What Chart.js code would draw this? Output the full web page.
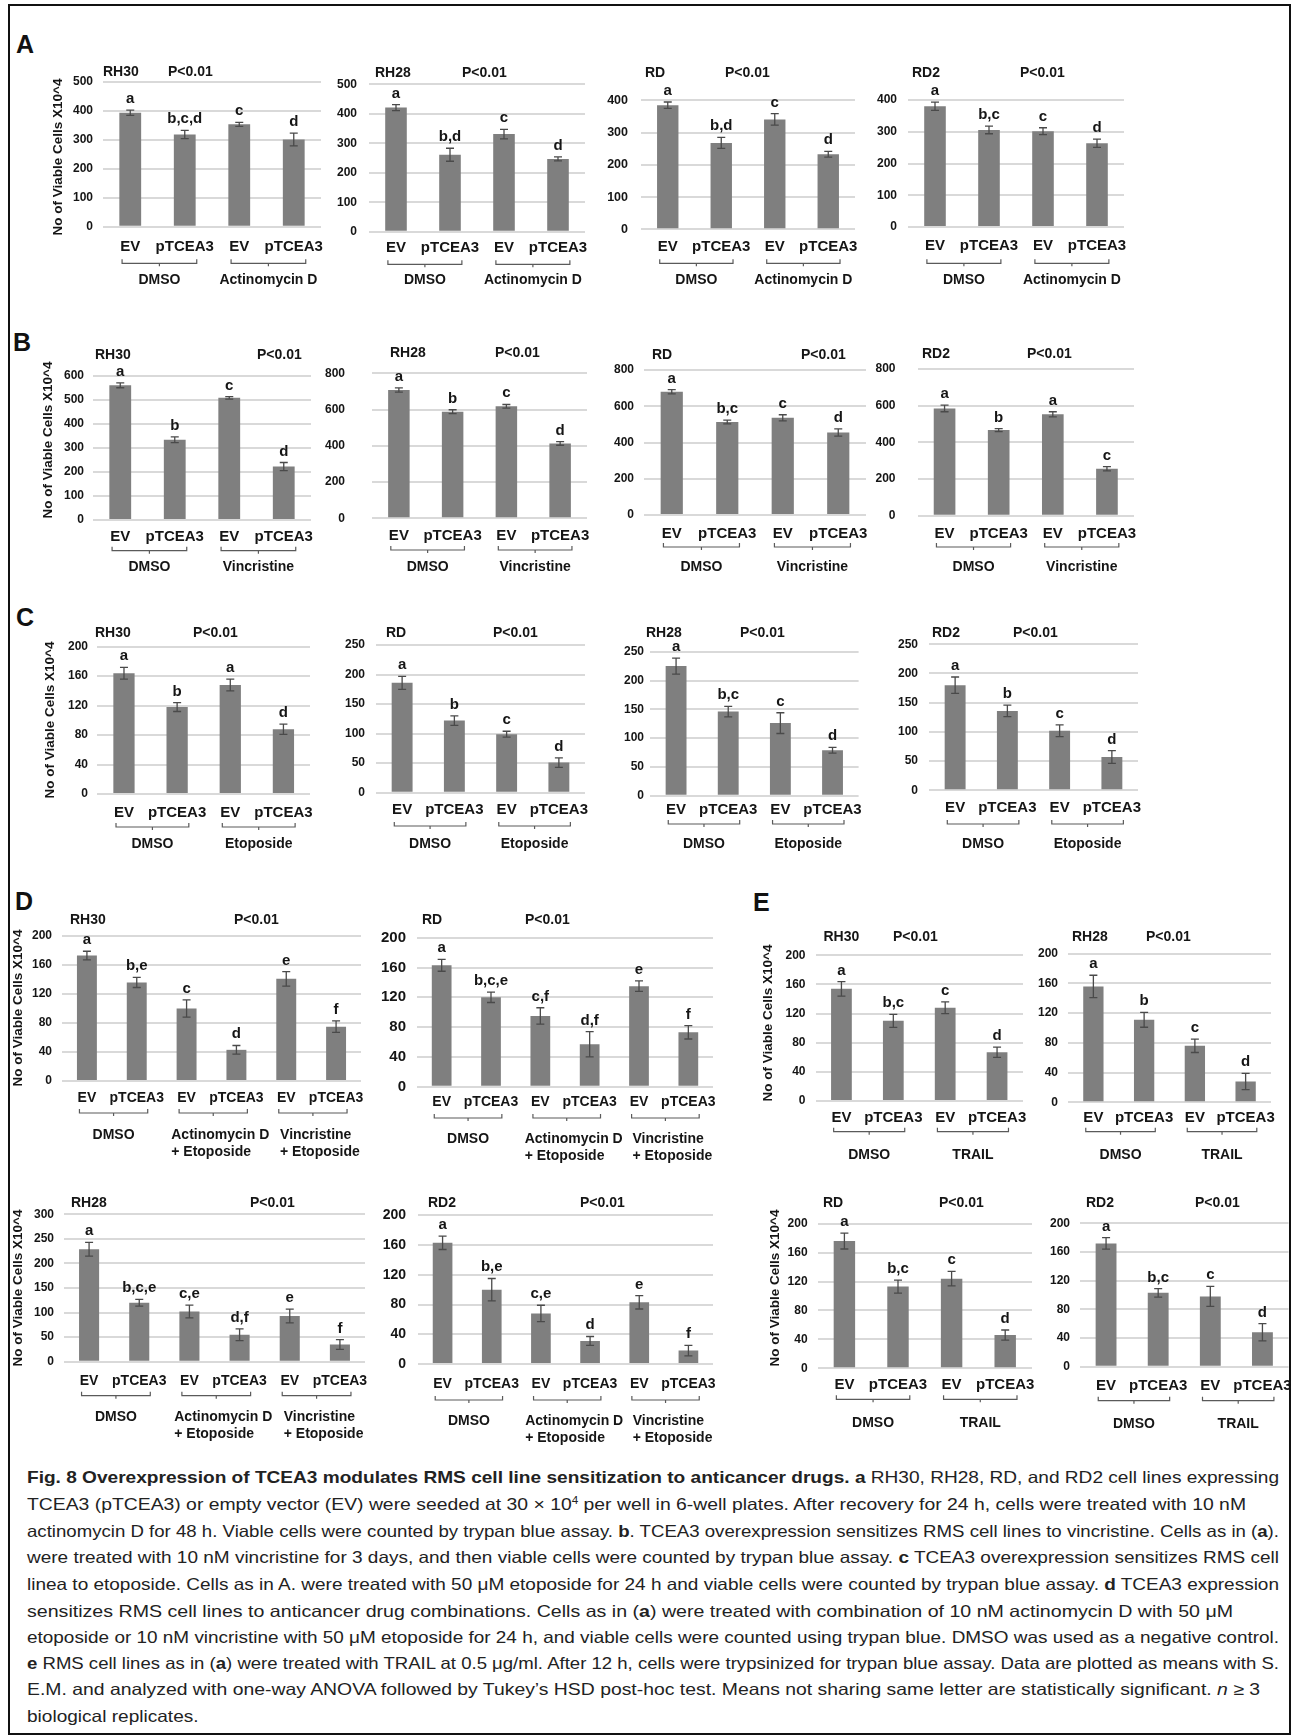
<!DOCTYPE html>
<html>
<head>
<meta charset="utf-8">
<script src="https://cdn.jsdelivr.net/npm/chart.js@4.4.1/dist/chart.umd.min.js"></script>
<style>
  html, body { margin: 0; padding: 0; background: #fff; }
  #fig { position: relative; width: 1298px; height: 1735px; overflow: hidden; background: #fff; }
  #frame { position: absolute; left: 8px; top: 4px; width: 1283px; height: 1731px; border: 2px solid #111; box-sizing: border-box; }
  .plabel { position: absolute; font: bold 25px 'Liberation Sans', Arial, sans-serif; color: #111; line-height: 25px; }
  canvas { position: absolute; }
  .cap { position: absolute; left: 27px; white-space: nowrap; font: 16.5px 'Liberation Sans', Arial, sans-serif; color: #222; line-height: 20px; transform-origin: 0 50%; }
  .cap b { font-weight: bold; }
  .cap sup { font-size: 10px; vertical-align: 6px; line-height: 0; }
</style>
</head>
<body>
<div id="fig">
  <div id="frame"></div>
  <div class="plabel" style="left:16px;top:32px">A</div>
  <div class="plabel" style="left:13px;top:330px">B</div>
  <div class="plabel" style="left:16px;top:605px">C</div>
  <div class="plabel" style="left:15px;top:889px">D</div>
  <div class="plabel" style="left:753px;top:890px">E</div>
</div>
<script>
// ---- category labels ----
const xLabels4 = ['EV', 'pTCEA3', 'EV', 'pTCEA3'];
const xLabels6 = ['EV', 'pTCEA3', 'EV', 'pTCEA3', 'EV', 'pTCEA3'];
const groupsActD = ['DMSO', 'Actinomycin D'];
const groupsVcr = ['DMSO', 'Vincristine'];
const groupsEto = ['DMSO', 'Etoposide'];
const groupsCombo = ['DMSO', ['Actinomycin D', '+ Etoposide'], ['Vincristine', '+ Etoposide']];
const groupsTrail = ['DMSO', 'TRAIL'];
const pLabel = 'P<0.01';
const yTitle = 'No of Viable Cells X10^4';

// ---- y axis ranges [min, max, step] ----
const axis500by100 = [0, 500, 100];
const axis500by50 = [0, 500, 50];
const axis450by50 = [0, 450, 50];
const axis600by100 = [0, 600, 100];
const axis800by200 = [0, 800, 200];
const axis200by20 = [0, 200, 20];
const axis250by50 = [0, 250, 50];
const axis200by40 = [0, 200, 40];
const axis300by50 = [0, 300, 50];

// ---- A: actinomycin D ----
const actRH30 = [393, 318, 353, 301];
const actRH30Err = [9, 14, 7, 22];
const actRH30Sig = ['a', 'b,c,d', 'c', 'd'];
const actRH28 = [421, 261, 331, 247];
const actRH28Err = [10, 22, 16, 7];
const actRH28Sig = ['a', 'b,d', 'c', 'd'];
const actRD = [385, 268, 341, 233];
const actRDErr = [10, 17, 18, 9];
const actRDSig = ['a', 'b,d', 'c', 'd'];
const actRD2 = [381, 306, 302, 264];
const actRD2Err = [13, 12, 11, 13];
const actRD2Sig = ['a', 'b,c', 'c', 'd'];

// ---- B: vincristine ----
const vcrRH30 = [560, 334, 508, 222];
const vcrRH30Err = [10, 12, 5, 17];
const vcrRH30Sig = ['a', 'b', 'c', 'd'];
const vcrRH28 = [708, 588, 618, 413];
const vcrRH28Err = [12, 11, 10, 10];
const vcrRH28Sig = ['a', 'b', 'c', 'd'];
const vcrRD = [680, 513, 536, 455];
const vcrRDErr = [12, 10, 17, 20];
const vcrRDSig = ['a', 'b,c', 'c', 'd'];
const vcrRD2 = [585, 467, 553, 256];
const vcrRD2Err = [18, 8, 14, 12];
const vcrRD2Sig = ['a', 'b', 'a', 'c'];

// ---- C: etoposide ----
const etoRH30 = [164, 118, 148, 88];
const etoRH30Err = [8, 6, 8, 7];
const etoRH30Sig = ['a', 'b', 'a', 'd'];
const etoRD = [186, 122, 99, 51];
const etoRDErr = [11, 8, 5, 8];
const etoRDSig = ['a', 'b', 'c', 'd'];
const etoRH28 = [225, 146, 126, 79];
const etoRH28Err = [14, 9, 18, 5];
const etoRH28Sig = ['a', 'b,c', 'c', 'd'];
const etoRD2 = [180, 136, 102, 57];
const etoRD2Err = [14, 10, 10, 11];
const etoRD2Sig = ['a', 'b', 'c', 'd'];

// ---- D: drug combinations ----
const comboRH30 = [173, 136, 100, 43, 141, 75];
const comboRH30Err = [6, 7, 12, 6, 10, 8];
const comboRH30Sig = ['a', 'b,e', 'c', 'd', 'e', 'f'];
const comboRD = [163, 120, 95, 57, 135, 73];
const comboRDErr = [8, 7, 11, 17, 7, 9];
const comboRDSig = ['a', 'b,c,e', 'c,f', 'd,f', 'e', 'f'];
const comboRH28 = [229, 120, 102, 55, 93, 35];
const comboRH28Err = [14, 7, 13, 12, 14, 10];
const comboRH28Sig = ['a', 'b,c,e', 'c,e', 'd,f', 'e', 'f'];
const comboRD2 = [163, 100, 68, 31, 83, 18];
const comboRD2Err = [9, 15, 11, 6, 9, 7];
const comboRD2Sig = ['a', 'b,e', 'c,e', 'd', 'e', 'f'];

// ---- E: TRAIL ----
const trailRH30 = [154, 110, 128, 67];
const trailRH30Err = [10, 9, 8, 7];
const trailRH30Sig = ['a', 'b,c', 'c', 'd'];
const trailRH28 = [156, 111, 76, 28];
const trailRH28Err = [15, 10, 9, 11];
const trailRH28Sig = ['a', 'b', 'c', 'd'];
const trailRD = [176, 113, 124, 46];
const trailRDErr = [11, 9, 10, 7];
const trailRDSig = ['a', 'b,c', 'c', 'd'];
const trailRD2 = [172, 103, 98, 48];
const trailRD2Err = [8, 6, 14, 12];
const trailRD2Sig = ['a', 'b,c', 'c', 'd'];

// ---- panel definitions: data references ----
const panels = [
  { line: 'RH30', labels: xLabels4, groups: groupsActD, axis: axis500by100, mean: actRH30, err: actRH30Err, sig: actRH30Sig },
  { line: 'RH28', labels: xLabels4, groups: groupsActD, axis: axis500by50, mean: actRH28, err: actRH28Err, sig: actRH28Sig },
  { line: 'RD', labels: xLabels4, groups: groupsActD, axis: axis450by50, mean: actRD, err: actRDErr, sig: actRDSig },
  { line: 'RD2', labels: xLabels4, groups: groupsActD, axis: axis450by50, mean: actRD2, err: actRD2Err, sig: actRD2Sig },
  { line: 'RH30', labels: xLabels4, groups: groupsVcr, axis: axis600by100, mean: vcrRH30, err: vcrRH30Err, sig: vcrRH30Sig },
  { line: 'RH28', labels: xLabels4, groups: groupsVcr, axis: axis800by200, mean: vcrRH28, err: vcrRH28Err, sig: vcrRH28Sig },
  { line: 'RD', labels: xLabels4, groups: groupsVcr, axis: axis800by200, mean: vcrRD, err: vcrRDErr, sig: vcrRDSig },
  { line: 'RD2', labels: xLabels4, groups: groupsVcr, axis: axis800by200, mean: vcrRD2, err: vcrRD2Err, sig: vcrRD2Sig },
  { line: 'RH30', labels: xLabels4, groups: groupsEto, axis: axis200by20, mean: etoRH30, err: etoRH30Err, sig: etoRH30Sig },
  { line: 'RD', labels: xLabels4, groups: groupsEto, axis: axis250by50, mean: etoRD, err: etoRDErr, sig: etoRDSig },
  { line: 'RH28', labels: xLabels4, groups: groupsEto, axis: axis250by50, mean: etoRH28, err: etoRH28Err, sig: etoRH28Sig },
  { line: 'RD2', labels: xLabels4, groups: groupsEto, axis: axis250by50, mean: etoRD2, err: etoRD2Err, sig: etoRD2Sig },
  { line: 'RH30', labels: xLabels6, groups: groupsCombo, axis: axis200by40, mean: comboRH30, err: comboRH30Err, sig: comboRH30Sig },
  { line: 'RD', labels: xLabels6, groups: groupsCombo, axis: axis200by40, mean: comboRD, err: comboRDErr, sig: comboRDSig },
  { line: 'RH28', labels: xLabels6, groups: groupsCombo, axis: axis300by50, mean: comboRH28, err: comboRH28Err, sig: comboRH28Sig },
  { line: 'RD2', labels: xLabels6, groups: groupsCombo, axis: axis200by40, mean: comboRD2, err: comboRD2Err, sig: comboRD2Sig },
  { line: 'RH30', labels: xLabels4, groups: groupsTrail, axis: axis200by40, mean: trailRH30, err: trailRH30Err, sig: trailRH30Sig },
  { line: 'RH28', labels: xLabels4, groups: groupsTrail, axis: axis200by40, mean: trailRH28, err: trailRH28Err, sig: trailRH28Sig },
  { line: 'RD', labels: xLabels4, groups: groupsTrail, axis: axis200by20, mean: trailRD, err: trailRDErr, sig: trailRDSig },
  { line: 'RD2', labels: xLabels4, groups: groupsTrail, axis: axis200by20, mean: trailRD2, err: trailRD2Err, sig: trailRD2Sig }
];

// ---- page geometry of each plot (same order as panels) ----
// L/R/T/B: plot box; nx/px/ty: title positions; xl: tick label row; br: brace row; gl: group label row
const layout = [
  { L: 103, R: 321, T: 81.7, B: 226.7, nx: 103, px: 168, ty: 72, xl: 247.3, br: 263.3, gl: 280, yt: [58, 157], gap: 10, tf: 12 },
  { L: 369, R: 585, T: 84.3, B: 231.7, nx: 375, px: 462, ty: 73, xl: 248.3, br: 264.3, gl: 280, gap: 12, tf: 12 },
  { L: 641, R: 855, T: 84.3, B: 229.3, nx: 645, px: 725, ty: 72.7, xl: 247, br: 263.3, gl: 280, gap: 13, tf: 12.5 },
  { L: 908, R: 1124, T: 84.3, B: 227, nx: 912, px: 1020, ty: 72.7, xl: 246, br: 263.3, gl: 280, gap: 11, tf: 12 },
  { L: 93, R: 311, T: 375.7, B: 520, nx: 95, px: 257, ty: 355, xl: 536.7, br: 550.7, gl: 566.7, yt: [48, 440], gap: 9, tf: 12 },
  { L: 372, R: 587, T: 373.3, B: 518.3, nx: 390, px: 495, ty: 353, xl: 536, br: 550, gl: 567, gap: 27, tf: 12 },
  { L: 644, R: 866, T: 370, B: 515, nx: 652, px: 801, ty: 355, xl: 534, br: 547, gl: 567, gap: 10, tf: 12 },
  { L: 917.5, R: 1134, T: 369, B: 515.7, nx: 922, px: 1027, ty: 354, xl: 534, br: 547, gl: 567, gap: 22, tf: 12 },
  { L: 97.4, R: 310, T: 646.7, B: 794, nx: 95, px: 193, ty: 633, xl: 812.7, br: 827, gl: 844, yt: [50, 720], gap: 9.4, tf: 12 },
  { L: 376, R: 585, T: 645, B: 792.7, nx: 386, px: 493, ty: 633, xl: 810, br: 826, gl: 844, gap: 11, tf: 12 },
  { L: 650, R: 858.6, T: 651.7, B: 795.7, nx: 646, px: 740, ty: 633, xl: 810, br: 824, gl: 844, gap: 6, tf: 12 },
  { L: 929, R: 1138, T: 644.3, B: 790.3, nx: 932, px: 1013, ty: 633, xl: 808, br: 824, gl: 844, gap: 11, tf: 12 },
  { L: 62, R: 361, T: 936, B: 1081, nx: 70, px: 234, ty: 920, xl: 1098, br: 1113, gl: 1135, yt: [18, 1008], gap: 10, tf: 12, xf: 14 },
  { L: 417, R: 713, T: 937.7, B: 1086.7, nx: 422, px: 525, ty: 920, xl: 1102, br: 1118, gl: 1139, gap: 11, tf: 15, xf: 14 },
  { L: 64, R: 365, T: 1214.3, B: 1361.7, nx: 71, px: 250, ty: 1203, xl: 1380.7, br: 1395.7, gl: 1416.7, yt: [18, 1288], gap: 10, tf: 12, xf: 14 },
  { L: 418, R: 713, T: 1215.3, B: 1364, nx: 428, px: 580, ty: 1203, xl: 1384, br: 1400, gl: 1420.7, gap: 12, tf: 14, xf: 14 },
  { L: 815.5, R: 1023, T: 955.3, B: 1101, nx: 823.5, px: 893, ty: 936.7, xl: 1118, br: 1131.7, gl: 1155, yt: [768.6, 1023], gap: 10, tf: 12 },
  { L: 1068, R: 1271, T: 953.7, B: 1102.3, nx: 1072, px: 1146, ty: 936.7, xl: 1118, br: 1131.7, gl: 1155, gap: 10, tf: 12 },
  { L: 817.6, R: 1032, T: 1223.7, B: 1368.3, nx: 823, px: 939, ty: 1203, xl: 1385, br: 1399.3, gl: 1423.3, yt: [775.5, 1288], gap: 10, tf: 12 },
  { L: 1080, R: 1288.5, T: 1223.3, B: 1366.7, nx: 1086, px: 1195, ty: 1203, xl: 1386, br: 1400.7, gl: 1424.3, gap: 10, tf: 12 }
];

const FONT = "'Liberation Sans', Arial, sans-serif";
const INK = '#151515';
Chart.defaults.font.family = FONT;

// error bars, significance letters, braces, group names and headings
const annotations = {
  id: 'annotations',
  afterDatasetsDraw(chart, args, opts) {
    const p = opts.panel, g = opts.geom, ox = opts.ox, oy = opts.oy;
    const ctx = chart.ctx;
    const ys = chart.scales.y, xs = chart.scales.x;
    const meta = chart.getDatasetMeta(0);
    const cat = (xs.right - xs.left) / p.mean.length;
    ctx.save();

    meta.data.forEach((bar, i) => {
      const v = p.mean[i], e = p.err[i];
      const yTop = ys.getPixelForValue(v + e);
      const yBot = ys.getPixelForValue(Math.max(v - e, 0));
      ctx.strokeStyle = '#4a4a4a';
      ctx.lineWidth = 1.3;
      ctx.beginPath();
      ctx.moveTo(bar.x, yTop); ctx.lineTo(bar.x, yBot);
      ctx.moveTo(bar.x - 4, yTop); ctx.lineTo(bar.x + 4, yTop);
      ctx.moveTo(bar.x - 4, yBot); ctx.lineTo(bar.x + 4, yBot);
      ctx.stroke();
      ctx.fillStyle = INK;
      ctx.font = 'bold 15px ' + FONT;
      ctx.textAlign = 'center';
      ctx.textBaseline = 'alphabetic';
      ctx.fillText(p.sig[i], bar.x, yTop - 7);
    });

    // braces under each pair of bars and the treatment names
    const by = g.br - oy;
    p.groups.forEach((name, k) => {
      const b1 = meta.data[2 * k], b2 = meta.data[2 * k + 1];
      const x1 = b1.x - 0.15 * cat, x2 = b2.x + 0.22 * cat, xm = (x1 + x2) / 2;
      ctx.strokeStyle = '#5a5a5a';
      ctx.lineWidth = 1.2;
      ctx.beginPath();
      ctx.moveTo(x1, by - 4); ctx.lineTo(x1, by); ctx.lineTo(x2, by); ctx.lineTo(x2, by - 4);
      ctx.moveTo(xm, by); ctx.lineTo(xm, by + 3);
      ctx.stroke();
      ctx.fillStyle = INK;
      ctx.font = 'bold 14px ' + FONT;
      ctx.textBaseline = 'middle';
      if (Array.isArray(name)) {
        const w = Math.max(...name.map(s => ctx.measureText(s).width));
        ctx.textAlign = 'left';
        name.forEach((s, j) => ctx.fillText(s, xm + 7 - w / 2, g.gl - oy + j * 17));
      } else {
        ctx.textAlign = 'center';
        ctx.fillText(name, xm, g.gl - oy);
      }
    });

    // cell line and p value heading
    ctx.fillStyle = INK;
    ctx.font = 'bold 14px ' + FONT;
    ctx.textAlign = 'left';
    ctx.textBaseline = 'middle';
    ctx.fillText(p.line, g.nx - ox, g.ty - oy);
    ctx.fillText(pLabel, g.px - ox, g.ty - oy);

    // rotated y axis title
    if (g.yt) {
      ctx.translate(g.yt[0] - ox, g.yt[1] - oy);
      ctx.rotate(-Math.PI / 2);
      ctx.font = 'bold 13.5px ' + FONT;
      ctx.textAlign = 'center';
      ctx.textBaseline = 'middle';
      ctx.fillText(yTitle, 0, 0);
    }
    ctx.restore();
  }
};

const fig = document.getElementById('fig');
const Y_W = 62;

panels.forEach((p, idx) => {
  const g = layout[idx];
  const multi = p.groups.some(Array.isArray);
  const cx = Math.floor(g.L - 75), cy = Math.floor(g.T - 40);
  const cw = Math.ceil(g.R + 25 - cx);
  const ch = Math.ceil(g.gl + (multi ? 35 : 20) - cy);
  const xH = (g.xl - g.B) + 13;
  const cv = document.createElement('canvas');
  cv.width = cw; cv.height = ch;
  cv.style.left = cx + 'px'; cv.style.top = cy + 'px';
  cv.style.width = cw + 'px'; cv.style.height = ch + 'px';
  fig.appendChild(cv);

  const xf = g.xf || 15;
  new Chart(cv, {
    type: 'bar',
    data: {
      labels: p.labels,
      datasets: [{
        data: p.mean,
        backgroundColor: '#7f7f7f',
        borderWidth: 0,
        barPercentage: 0.4,
        categoryPercentage: 1
      }]
    },
    options: {
      responsive: false,
      animation: false,
      devicePixelRatio: 1,
      layout: {
        padding: {
          left: g.L - cx - Y_W,
          top: g.T - cy,
          right: cx + cw - g.R,
          bottom: cy + ch - g.B - xH
        }
      },
      plugins: {
        legend: { display: false },
        tooltip: { enabled: false },
        annotations: { panel: p, geom: g, ox: cx, oy: cy }
      },
      scales: {
        x: {
          grid: { display: false, drawTicks: false },
          border: { display: false },
          ticks: {
            color: INK,
            font: { size: xf, weight: 'bold' },
            padding: (g.xl - g.B) - 0.6 * xf,
            maxRotation: 0, minRotation: 0, autoSkip: false
          },
          afterFit: s => { s.height = xH; }
        },
        y: {
          min: p.axis[0],
          max: p.axis[1],
          grid: { color: '#d9d9d9', lineWidth: 2, drawTicks: false },
          border: { display: false },
          ticks: {
            stepSize: p.axis[2],
            color: INK,
            font: { size: g.tf, weight: 'bold' },
            padding: g.gap
          },
          afterFit: s => { s.width = Y_W; }
        }
      }
    },
    plugins: [annotations]
  });
});

// ---- figure legend ----
const captionLines = [
  '<b>Fig. 8 Overexpression of TCEA3 modulates RMS cell line sensitization to anticancer drugs. a</b> RH30, RH28, RD, and RD2 cell lines expressing',
  'TCEA3 (pTCEA3) or empty vector (EV) were seeded at 30 × 10<sup>4</sup> per well in 6-well plates. After recovery for 24 h, cells were treated with 10 nM',
  'actinomycin D for 48 h. Viable cells were counted by trypan blue assay. <b>b</b>. TCEA3 overexpression sensitizes RMS cell lines to vincristine. Cells as in (<b>a</b>).',
  'were treated with 10 nM vincristine for 3 days, and then viable cells were counted by trypan blue assay. <b>c</b> TCEA3 overexpression sensitizes RMS cell',
  'linea to etoposide. Cells as in A. were treated with 50 μM etoposide for 24 h and viable cells were counted by trypan blue assay. <b>d</b> TCEA3 expression',
  'sensitizes RMS cell lines to anticancer drug combinations. Cells as in (<b>a</b>) were treated with combination of 10 nM actinomycin D with 50 μM',
  'etoposide or 10 nM vincristine with 50 μM etoposide for 24 h, and viable cells were counted using trypan blue. DMSO was used as a negative control.',
  '<b>e</b> RMS cell lines as in (<b>a</b>) were treated with TRAIL at 0.5 μg/ml. After 12 h, cells were trypsinized for trypan blue assay. Data are plotted as means with S.',
  'E.M. and analyzed with one-way ANOVA followed by Tukey’s HSD post-hoc test. Means not sharing same letter are statistically significant. <i>n</i> ≥ 3',
  'biological replicates.'
];
const captionWidth = [1252, 1219, 1252, 1252, 1252, 1206, 1252, 1252, 1233, 0];
const captionY = [1477, 1504, 1531, 1557, 1584, 1611, 1637, 1663, 1689, 1716];
const spans = captionLines.map((html, i) => {
  const d = document.createElement('div');
  d.className = 'cap';
  d.innerHTML = html;
  d.style.top = (captionY[i] - 10) + 'px';
  fig.appendChild(d);
  return d;
});
const scales = spans.map((d, i) => captionWidth[i] ? captionWidth[i] / d.getBoundingClientRect().width : 0);
const used = scales.filter(s => s > 0);
const meanScale = used.reduce((a, b) => a + b, 0) / used.length;
spans.forEach((d, i) => { d.style.transform = 'scaleX(' + (scales[i] || meanScale) + ')'; });
</script>
</body>
</html>
